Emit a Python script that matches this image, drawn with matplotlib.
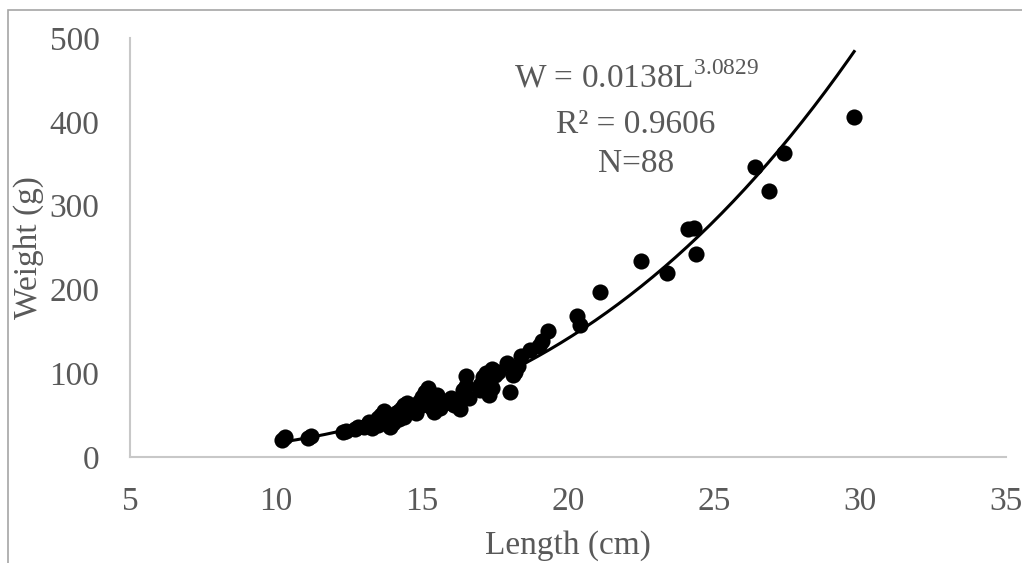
import numpy as np
import matplotlib
matplotlib.use('Agg')
import matplotlib.pyplot as plt
from matplotlib.patches import Rectangle

# length (cm) and weight (g)
length = [10.2, 10.3, 11.1, 11.2, 12.3, 12.4, 12.7, 12.8, 13.1, 13.2,
          13.3, 13.4, 13.5, 13.6, 13.7, 13.7, 13.8, 13.9, 14.0, 14.1,
          14.2, 14.3, 14.4, 14.4, 14.5, 14.6, 14.7, 14.8, 14.9, 15.0,
          15.0, 15.1, 15.2, 15.2, 15.3, 15.4, 15.4, 15.5, 15.6, 16.0,
          16.1, 16.2, 16.3, 16.4, 16.4, 16.5, 16.5, 16.6, 17.0, 17.1,
          17.2, 17.3, 17.3, 17.4, 17.4, 17.5, 17.6, 17.9, 18.0, 18.2,
          18.3, 18.4, 18.7, 19.1, 19.3, 20.3, 20.4, 21.1, 22.5, 23.4,
          24.1, 24.3, 24.4, 26.4, 26.9, 27.4, 29.8, 13.0, 13.5, 14.0,
          14.2, 14.8, 15.1, 15.6, 16.0, 17.0, 18.1, 19.0]
weight = [20, 24, 23, 25, 30, 31, 34, 36, 38, 42,
          35, 40, 46, 50, 55, 42, 48, 36, 40, 52,
          45, 58, 62, 48, 64, 55, 60, 58, 66, 72,
          62, 78, 82, 68, 60, 54, 70, 74, 65, 70,
          62, 66, 57, 74, 80, 85, 97, 70, 86, 95,
          100, 74, 90, 105, 82, 98, 102, 112, 78, 102,
          108, 120, 128, 138, 150, 168, 158, 197, 234, 219,
          272, 273, 242, 346, 318, 363, 406, 36, 38, 44,
          55, 52, 64, 58, 64, 80, 98, 132]

a_coef = 0.0138
b_coef = 3.0829
eq_lines = [r'W = 0.0138L$^{\mathregular{3.0829}}$', 'R² = 0.9606', 'N=88']

plt.rcParams['font.family'] = ['Liberation Serif', 'DejaVu Serif']
plt.rcParams['mathtext.fontset'] = 'custom'
plt.rcParams['mathtext.rm'] = 'Liberation Serif'

txt = '#595959'
fig = plt.figure(figsize=(10.22, 5.63), dpi=100)
ax = fig.add_axes([130 / 1022, 106 / 563, 876 / 1022, 419 / 563])

fig.patches.append(Rectangle((8 / 1022, -0.1), 1.2, 1 - 10 / 563 + 0.1,
                             transform=fig.transFigure, fill=False,
                             edgecolor='#a6a6a6', linewidth=1.2))

ax.scatter(length, weight, s=135, color='black', zorder=3, linewidths=0)

xs = np.linspace(min(length), max(length), 200)
ax.plot(xs, a_coef * xs ** b_coef, color='black', linewidth=2.2, zorder=4)

ax.set_xlim(5, 35)
ax.set_ylim(0, 500)
ax.set_xticks(range(5, 36, 5))
ax.set_yticks(range(0, 501, 100))
for s in ['top', 'right']:
    ax.spines[s].set_visible(False)
for s in ['left', 'bottom']:
    ax.spines[s].set_color('#c8c8c8')
    ax.spines[s].set_linewidth(1.5)
ax.tick_params(length=0, labelsize=24, labelcolor=txt)
ax.tick_params(axis='x', pad=21)
ax.tick_params(axis='y', pad=22)

ax.set_xlabel('Length (cm)', fontsize=24, color=txt, labelpad=10)
ax.set_ylabel('Weight (g)', fontsize=24, color=txt, labelpad=4)

for yv, line in zip([452, 396, 350], eq_lines):
    ax.text(22.33, yv, line, ha='center', va='center', fontsize=24, color=txt)

fig.savefig('out.png', dpi=100)
